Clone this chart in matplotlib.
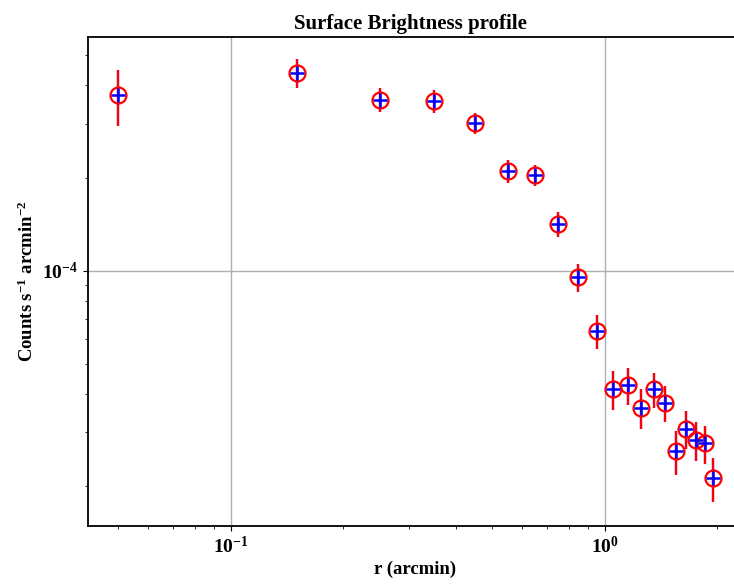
import matplotlib
matplotlib.use("Agg")
import matplotlib.pyplot as plt
import numpy as np

r_arcmin = [0.05, 0.15, 0.25, 0.35, 0.45, 0.55, 0.65, 0.75, 0.85, 0.95,
            1.05, 1.15, 1.25, 1.35, 1.45, 1.55, 1.65, 1.75, 1.85, 1.95]
sb = [3.72e-4, 4.40e-4, 3.59e-4, 3.56e-4, 3.02e-4, 2.11e-4, 2.05e-4, 1.42e-4, 0.956e-4, 6.39e-5,
      4.14e-5, 4.26e-5, 3.60e-5, 4.13e-5, 3.73e-5, 2.60e-5, 3.07e-5, 2.82e-5, 2.76e-5, 2.13e-5]
sb_err = [0.76e-4, 0.47e-4, 0.32e-4, 0.30e-4, 0.24e-4, 0.18e-4, 0.16e-4, 0.13e-4, 0.10e-4, 0.8e-5,
          0.60e-5, 0.59e-5, 0.54e-5, 0.55e-5, 0.50e-5, 0.42e-5, 0.43e-5, 0.41e-5, 0.39e-5, 0.35e-5]

plt.rcParams['font.family'] = ['Liberation Serif', 'DejaVu Serif']
plt.rcParams['font.weight'] = 'bold'
plt.rcParams['mathtext.fontset'] = 'custom'
plt.rcParams['mathtext.rm'] = 'Liberation Serif:bold'
plt.rcParams['mathtext.it'] = 'Liberation Serif:italic:bold'
plt.rcParams['mathtext.bf'] = 'Liberation Serif:bold'
plt.rcParams['mathtext.default'] = 'regular'

W, H = 734, 585
fig = plt.figure(figsize=(W / 100, H / 100), dpi=100)

xlim = (0.0415, 2.34)
ylim = (1.487e-5, 5.74e-4)
left_px, top_px, bottom_px = 88, 37, 526
decade_px = 374
width_px = decade_px * (np.log10(xlim[1]) - np.log10(xlim[0]))
ax = fig.add_axes([left_px / W, (H - bottom_px) / H, width_px / W, (bottom_px - top_px) / H])

ax.set_xscale('log')
ax.set_yscale('log')

ax.errorbar(r_arcmin, sb, yerr=sb_err, fmt='none', ecolor='blue', elinewidth=1.6, zorder=2)
ax.errorbar(r_arcmin, sb, yerr=sb_err, fmt='none', ecolor='red', elinewidth=1.6, zorder=3)
ax.plot(r_arcmin, sb, 'o', ms=11.5, mfc='none', mec='red', mew=1.6, zorder=4)
ax.plot(r_arcmin, sb, '+', ms=10, color='blue', mew=1.8, zorder=5)

ax.set_xlim(*xlim)
ax.set_ylim(*ylim)
ax.grid(True, which='major', color='#b0b0b0', linewidth=1.0)
ax.set_axisbelow(True)

ax.spines['left'].set_linewidth(1.3)
ax.spines['bottom'].set_linewidth(1.3)
ax.spines['top'].set_linewidth(1.3)

ax.tick_params(labelsize=14)
ax.set_title('Surface Brightness profile', fontsize=15, fontweight='bold', x=(410 - left_px) / width_px)
ax.set_xlabel('r (arcmin)', fontsize=13.5, fontweight='bold', labelpad=3)
ax.set_ylabel(r'Counts s$^{-1}$ arcmin$^{-2}$', fontsize=13.5, fontweight='bold')

fig.savefig('out.png', dpi=100)
